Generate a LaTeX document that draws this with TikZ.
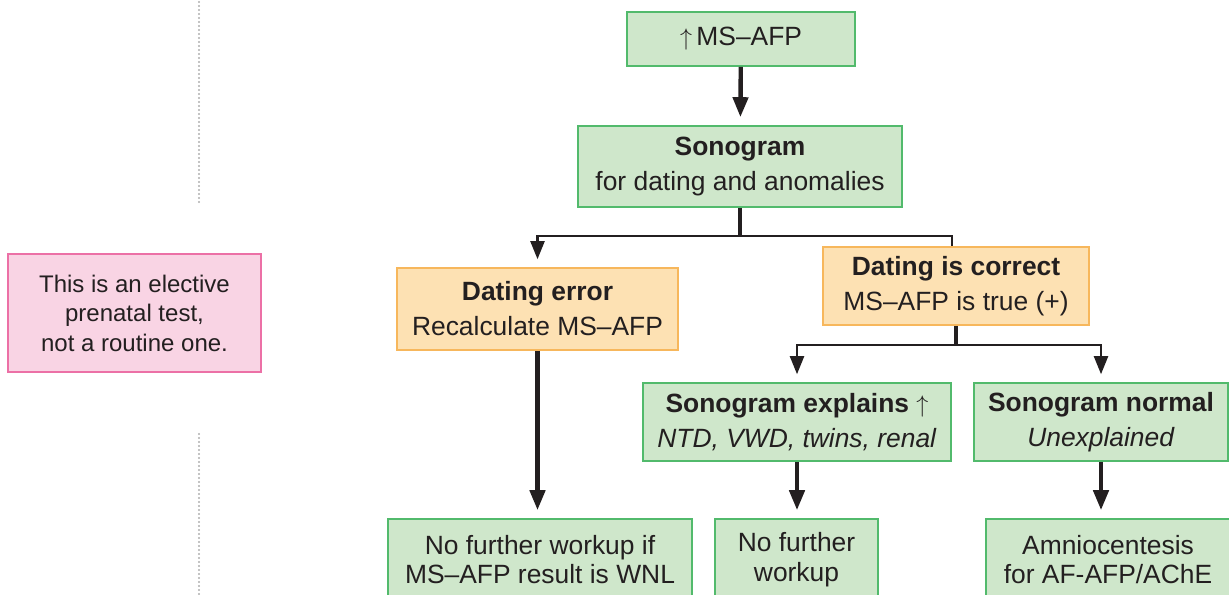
\documentclass[tikz,border=0pt]{standalone}
\usepackage{fontspec}
\setmainfont{Liberation Sans}
\usepackage{xcolor}
\usetikzlibrary{arrows.meta, positioning, calc}
\definecolor{boxgreen}{RGB}{207,231,203}
\definecolor{linegreen}{RGB}{82,186,108}
\definecolor{boxorange}{RGB}{253,225,179}
\definecolor{lineorange}{RGB}{247,183,92}
\definecolor{boxpink}{RGB}{249,212,228}
\definecolor{linepink}{RGB}{236,112,166}
\definecolor{inkgray}{RGB}{35,31,32}
\definecolor{dotgray}{RGB}{175,175,175}

\begin{document}
\begin{tikzpicture}[
  x=0.5pt,y=-0.5pt,
  box/.style={
    rectangle, line width=0.8pt, text=inkgray, align=center,
    font=\fontsize{13.2}{17.5}\selectfont, inner sep=2pt
  },
  greenbox/.style={box, draw=linegreen, fill=boxgreen},
  orangebox/.style={box, draw=lineorange, fill=boxorange},
  notebox/.style={box, draw=linepink, fill=boxpink, font=\fontsize{12}{14.75}\selectfont},
  tight/.style={font=\fontsize{13.2}{14.75}\selectfont},
  stem/.style={line width=2.2pt, draw=inkgray, -{Triangle[length=10pt,width=7.5pt]}, shorten >=4pt},
  trunk/.style={line width=2.2pt, draw=inkgray},
  branch/.style={line width=1.1pt, draw=inkgray, -{Triangle[length=9pt,width=7pt]}, shorten >=4pt},
  dotline/.style={draw=dotgray, line width=1.2pt, dash pattern=on 0pt off 2pt, line cap=round}
]
\clip (0,0) rectangle (1229,594);

% ---- fixed positions ----
\node[greenbox, minimum width=114pt, minimum height=27pt]   (msafp) at (741, 39)   {$\uparrow$\,MS--AFP};
\node[greenbox, minimum width=162pt, minimum height=40.5pt] (sono)  at (740, 166.5) {\textbf{Sonogram}\\for dating and anomalies};

\node[orangebox, minimum width=140.5pt, minimum height=41pt] (err)  at (537.5, 309) {\textbf{Dating error}\\Recalculate MS--AFP};
\node[orangebox, minimum width=133pt, minimum height=39pt]   (corr) at (956, 286)   {\textbf{Dating is correct}\\MS--AFP is true (+)};

\node[greenbox, minimum width=154pt, minimum height=39pt] (expl) at (797, 422)  {\textbf{Sonogram explains} $\uparrow$\\\textit{NTD, VWD, twins, renal}};
\node[greenbox, minimum width=127pt, minimum height=39pt] (norm) at (1101, 422) {\textbf{Sonogram normal}\\\textit{Unexplained}};

% bottom row runs off the page
\node[greenbox, tight, minimum width=152pt, minimum height=40.5pt] (nowork)  at (540, 559.5)   {No further workup if\\MS--AFP result is WNL};
\node[greenbox, tight, minimum width=81.5pt, minimum height=40.5pt] (nofurth) at (796.5, 559.5) {No further\\workup};
\node[greenbox, tight, minimum width=122pt, minimum height=40.5pt] (amnio)   at (1108, 559.5)  {Amniocentesis\\for AF-AFP/AChE};

\node[notebox, minimum width=126.5pt, minimum height=59pt] (note) at (134.5, 313) {This is an elective\\prenatal test,\\not a routine one.};

% ---- side rule ----
\coordinate (D1) at (199, 2);
\coordinate (D2) at (199, 205);
\coordinate (D3) at (199, 434);
\coordinate (D4) at (199, 594);
\draw[dotline] (D1) -- (D2);
\draw[dotline] (D3) -- (D4);

% ---- junctions ----
\coordinate (J1) at ($(sono.south)+(0,28)$);
\coordinate (J2) at ($(corr.south)+(0,19)$);

% ---- connectors ----
\draw[stem] (msafp) -- (sono);

\draw[trunk] (sono.south) -- (J1);
\draw[branch] (J1) -| (err.north);
\draw[line width=1.1pt, draw=inkgray] (J1) -| ([xshift=-2pt]corr.north);

\draw[trunk] (corr.south) -- (J2);
\draw[branch] (J2) -| (expl.north);
\draw[branch] (J2) -| (norm.north);

\draw[stem] (err.south) -- (err.south |- nowork.north);
\draw[stem] (expl.south) -- (expl.south |- nofurth.north);
\draw[stem] (norm.south) -- (norm.south |- amnio.north);

\end{tikzpicture}
\end{document}
